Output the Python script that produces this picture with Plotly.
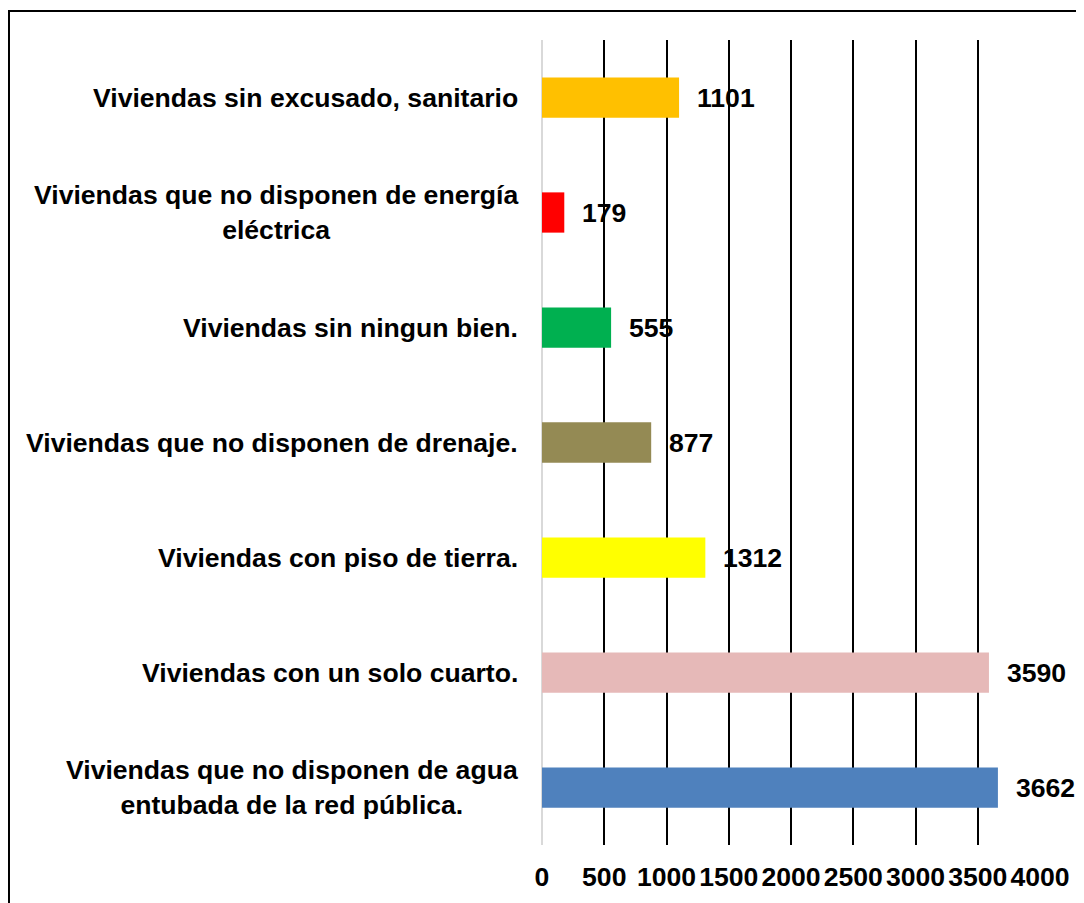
import plotly.graph_objects as go

categories = [
    "Viviendas que no disponen de agua<br>entubada de la red pública.",
    "Viviendas con un solo cuarto.",
    "Viviendas con piso de tierra.",
    "Viviendas que no disponen de drenaje.",
    "Viviendas sin ningun bien.",
    "Viviendas que no disponen de energía<br>eléctrica",
    "Viviendas sin excusado, sanitario",
]
values = [3662, 3590, 1312, 877, 555, 179, 1101]
colors = ["#4F81BD", "#E6B9B8", "#FFFF00", "#948A54", "#00B050", "#FF0000", "#FFC000"]
tick_vals = [0, 500, 1000, 1500, 2000, 2500, 3000, 3500, 4000]

FONT = "Liberation Sans, Arial, sans-serif"
FS = 26.6

fig = go.Figure()
fig.add_trace(go.Bar(
    x=values, y=categories, orientation="h",
    marker=dict(color=colors, line=dict(width=0)),
    width=0.35, showlegend=False, hoverinfo="skip",
))

annotations = []
for c, v in zip(categories, values):
    annotations.append(dict(
        x=v, y=c, xref="x", yref="y", text=str(v), showarrow=False,
        xanchor="left", yanchor="middle", xshift=16, yshift=0,
        font=dict(family=FONT, size=FS, color="black", weight="bold"),
    ))
    annotations.append(dict(
        x=0, y=c, xref="paper", yref="y", text=c, showarrow=False,
        xanchor="right", yanchor="middle", align="center", xshift=-22,
        font=dict(family=FONT, size=FS, color="black", weight="bold"),
    ))

fig.update_layout(
    width=1076, height=895,
    margin=dict(l=534, r=44, t=32, b=58),
    paper_bgcolor="white", plot_bgcolor="white",
    annotations=annotations,
    shapes=[dict(type="rect", xref="paper", yref="paper",
                 x0=-1.0703, x1=1.3, y0=-0.3, y1=1.036,
                 line=dict(color="black", width=2), fillcolor="rgba(0,0,0,0)", layer="below")],
    xaxis=dict(
        range=[0, 4000], tickvals=tick_vals, ticktext=[str(t) for t in tick_vals],
        showgrid=True, gridcolor="black", gridwidth=1.8,
        zeroline=True, zerolinecolor="#D9D9D9", zerolinewidth=2,
        showline=False, ticks="outside", ticklen=8, tickcolor="rgba(0,0,0,0)",
        tickfont=dict(family=FONT, size=FS, color="black", weight="bold"),
        fixedrange=True,
    ),
    yaxis=dict(
        showticklabels=False, showgrid=False, zeroline=False, showline=False,
        categoryorder="array", categoryarray=categories, fixedrange=True,
    ),
)

fig.write_html("out.html")
